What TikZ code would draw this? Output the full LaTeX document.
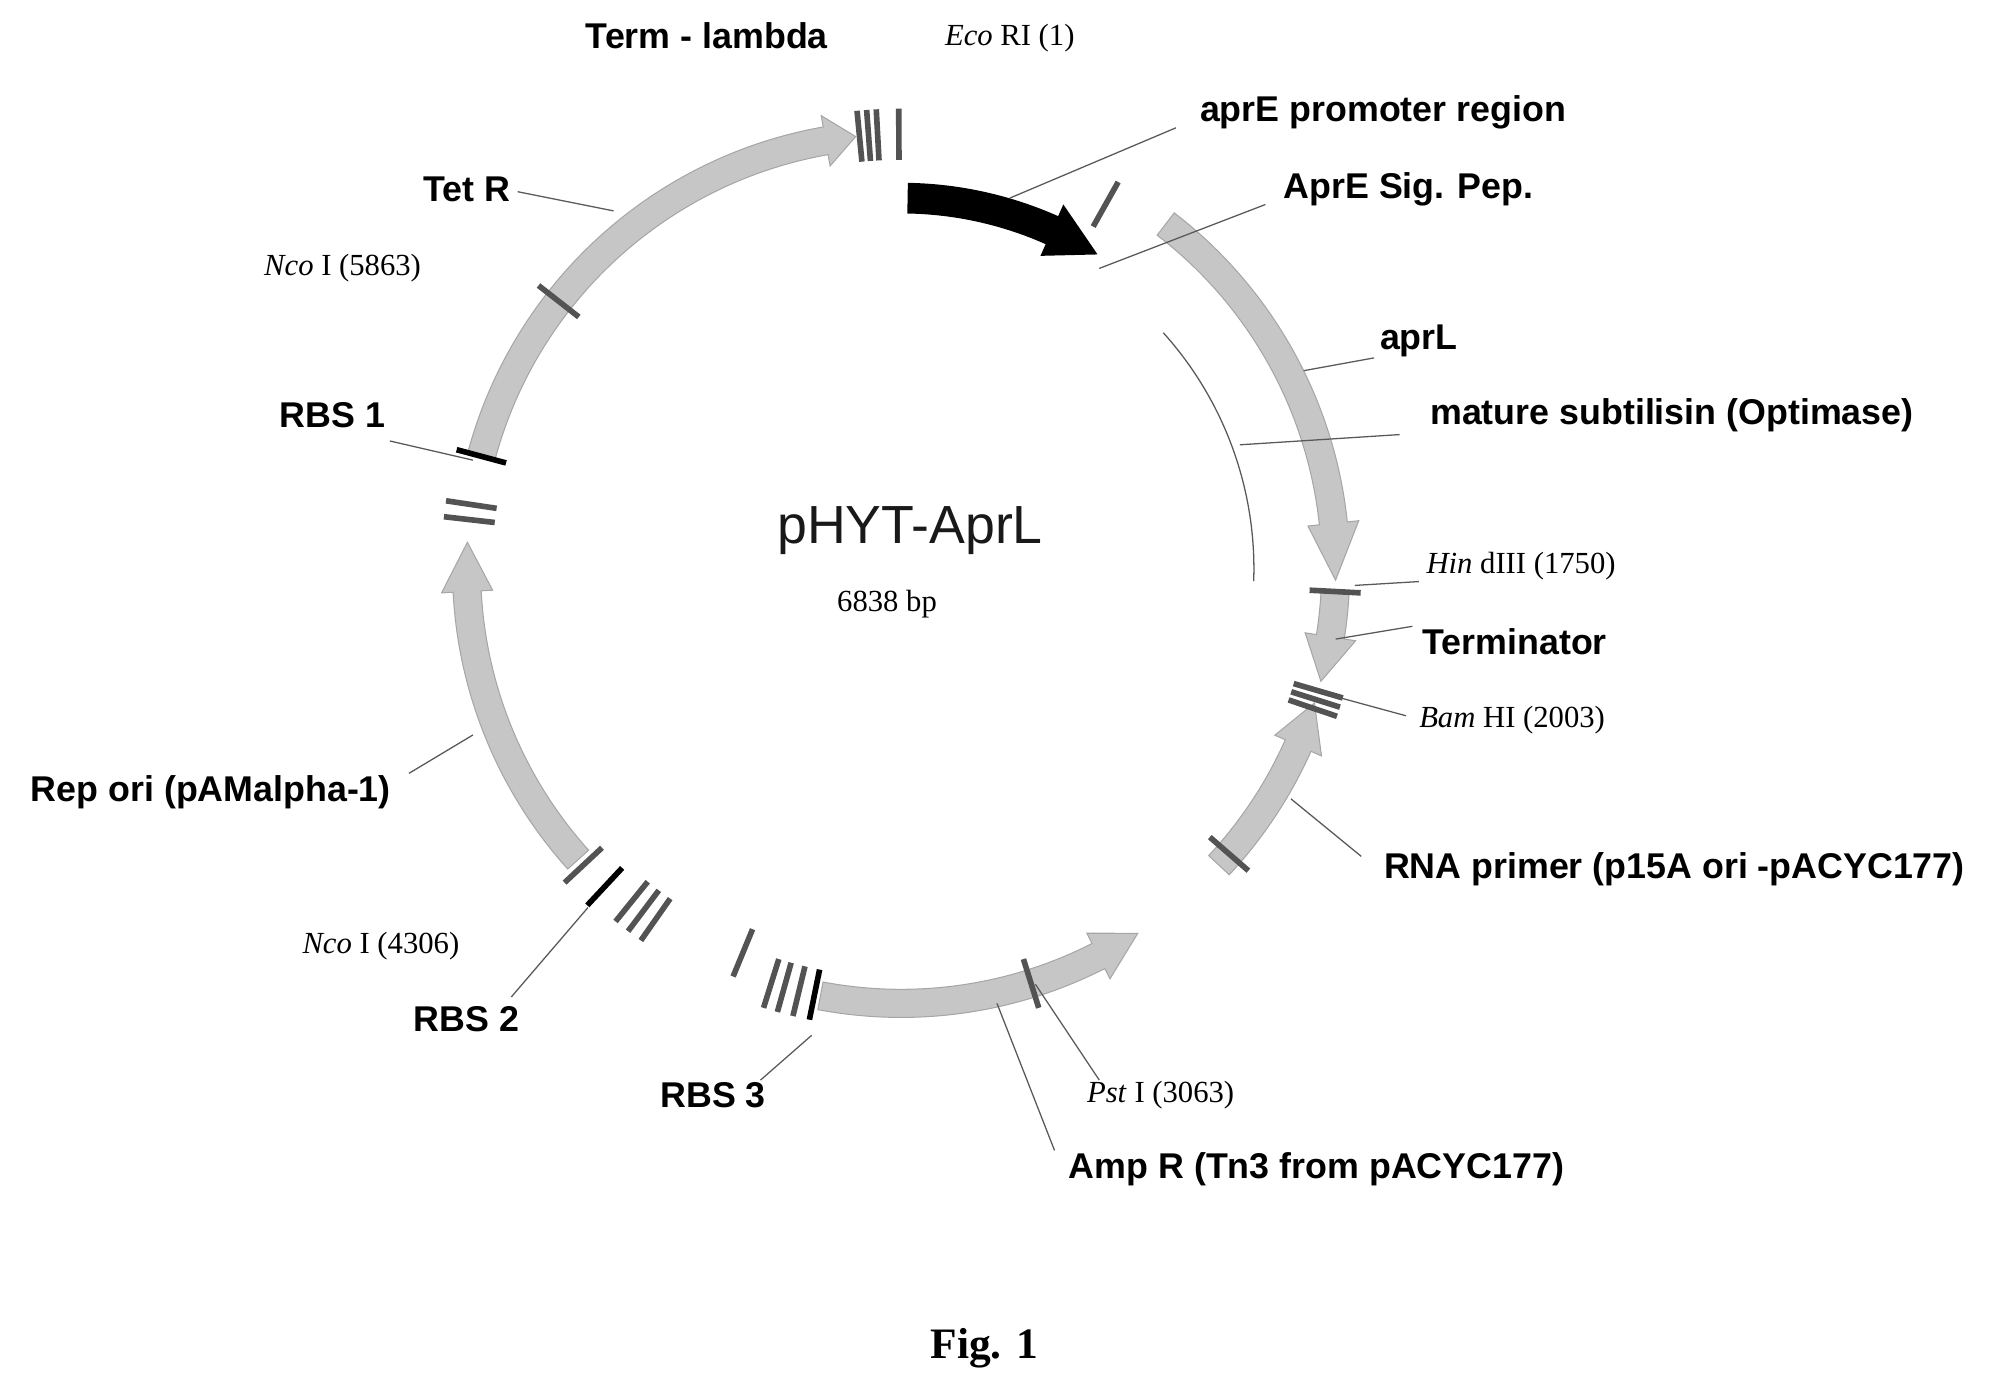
\documentclass[tikz,border=0pt]{standalone}
\usepackage{fontspec}
\setmainfont{Liberation Serif}
\setsansfont{Liberation Sans}
\begin{document}
\begin{tikzpicture}[x=0.5pt,y=0.5pt,
  lab/.style={font=\sffamily\bfseries\fontsize{14}{16}\selectfont,inner sep=1pt},
  site/.style={font=\rmfamily\fontsize{12}{14}\selectfont,inner sep=1pt},
  lead/.style={draw=gray!70!black,line width=0.5pt},
  tick/.style={line width=2.2pt,draw=gray!65!black},
  btick/.style={line width=2.2pt,draw=black}]
\useasboundingbox (-705,-641) rectangle (855,445);
\def\rc{340}\def\ri{329}\def\ro{351}\def\rhi{320}\def\rho{360}
\newcommand\garrow[4]{\fill[#4,draw=gray!70,line width=0.4pt] (#1:\ri) arc[start angle=#1,end angle=#2,radius=\ri] -- (#2:\rhi) -- (#3:\rc) -- (#2:\rho) -- (#2:\ro) arc[start angle=#2,end angle=#1,radius=\ro] -- cycle;}
\newcommand\tk[3][tick]{\draw[#1] (#2:{#3-20}) -- (#2:{#3+20});}
% gene arrows
\garrow{165}{100}{96}{gray!45}
\garrow{222}{183}{176.5}{gray!45}
\garrow{-100.7}{-63}{-57}{gray!45}
\garrow{-43}{-24}{-18}{gray!45}
\garrow{52.5}{6}{-1.5}{gray!45}
\garrow{-3}{-9}{-15}{gray!45}
% black promoter arrow
\fill[black] (89:278) arc[start angle=89,end angle=66,radius=278] -- (66:268) -- (58:290) -- (66:312) -- (66:302) arc[start angle=66,end angle=89,radius=302] -- cycle;
% inner thin arc
\draw[gray!70!black,line width=0.5pt] (42:276) arc[start angle=42,end angle=-2,radius=276];
% ticks
\tk{95.5}{340}\tk{94.3}{340}\tk{93.1}{340}\tk{90.3}{340}
\tk{60.7}{327}
\tk{-3}{340}
\tk{-16.3}{340}\tk{-17.5}{340}\tk{-18.7}{340}
\tk{-41}{340}
\tk{-72.6}{340}
\tk[btick]{-101.5}{340}\tk{-103.6}{340}\tk{-105.6}{340}\tk{-107.4}{340}\tk{-112.4}{325}
\tk{-129}{335}\tk{-127}{335}\tk{-125}{335}
\tk[btick]{-133}{340}
\tk{-137}{340}
\tk{171.5}{340}\tk{173.5}{340}
\tk[btick]{165}{340}
\tk{142}{340}
% labels
\node[lab] (term) at (-152,417) {Term - lambda};
\node[site] (eco) at (85,415) {\textit{Eco} RI (1)};
\node[lab] (prom) at (377,357) {aprE promoter region};
\coordinate (promA) at (85,290); \coordinate (promB) at (215,345);
\draw[lead] (promA) -- (promB);
\node[lab] (sig) at (397,297) {AprE Sig. Pep.};
\coordinate (sigA) at (155,235); \coordinate (sigB) at (285,285);
\draw[lead] (sigA) -- (sigB);
\node[lab] (aprl) at (405,178) {aprL};
\coordinate (aprlA) at (315,155); \coordinate (aprlB) at (370,165);
\draw[lead] (aprlA) -- (aprlB);
\node[lab] (mat) at (603,120) {mature subtilisin (Optimase)};
\coordinate (matA) at (265,97); \coordinate (matB) at (390,105);
\draw[lead] (matA) -- (matB);
\node[site] (hin) at (485,2) {\textit{Hin} dIII (1750)};
\coordinate (hinA) at (355,-13); \coordinate (hinB) at (405,-10);
\draw[lead] (hinA) -- (hinB);
\node[lab] (termi) at (480,-57) {Terminator};
\coordinate (termiA) at (340,-55); \coordinate (termiB) at (400,-45);
\draw[lead] (termiA) -- (termiB);
\node[site] (bam) at (478,-118) {\textit{Bam} HI (2003)};
\coordinate (bamA) at (340,-100); \coordinate (bamB) at (395,-115);
\draw[lead] (bamA) -- (bamB);
\node[lab] (rna) at (605,-235) {RNA primer (p15A ori -pACYC177)};
\coordinate (rnaA) at (305,-180); \coordinate (rnaB) at (360,-225);
\draw[lead] (rnaA) -- (rnaB);
\node[site] (pst) at (203,-412) {\textit{Pst} I (3063)};
\coordinate (pstA) at (105,-325); \coordinate (pstB) at (155,-400);
\draw[lead] (pstA) -- (pstB);
\node[lab] (amp) at (325,-470) {Amp R (Tn3 from pACYC177)};
\coordinate (ampA) at (75,-340); \coordinate (ampB) at (120,-455);
\draw[lead] (ampA) -- (ampB);
\node[lab] (rbs3) at (-147,-412) {RBS 3};
\coordinate (r3A) at (-70,-365); \coordinate (r3B) at (-110,-400);
\draw[lead] (r3A) -- (r3B);
\node[lab] (rbs2) at (-340,-352) {RBS 2};
\coordinate (r2A) at (-245,-265); \coordinate (r2B) at (-305,-335);
\draw[lead] (r2A) -- (r2B);
\node[site] (nco2) at (-407,-295) {\textit{Nco} I (4306)};
\node[lab] (rep) at (-540,-175) {Rep ori (pAMalpha-1)};
\coordinate (repA) at (-335,-130); \coordinate (repB) at (-385,-160);
\draw[lead] (repA) -- (repB);
\node[lab] (rbs1) at (-445,120) {RBS 1};
\coordinate (r1A) at (-400,100); \coordinate (r1B) at (-335,85);
\draw[lead] (r1A) -- (r1B);
\node[site] (nco1) at (-437,235) {\textit{Nco} I (5863)};
\node[lab] (tet) at (-340,297) {Tet R};
\coordinate (tetA) at (-300,295); \coordinate (tetB) at (-225,280);
\draw[lead] (tetA) -- (tetB);
\node[font=\sffamily\fontsize{21}{24}\selectfont,text=gray!20!black] (name) at (7,30) {pHYT-AprL};
\node[site] (bp) at (-11,-28) {6838 bp};
\node[font=\rmfamily\bfseries\fontsize{17}{20}\selectfont] (fig) at (65,-610) {Fig. 1};
\end{tikzpicture}
\end{document}
